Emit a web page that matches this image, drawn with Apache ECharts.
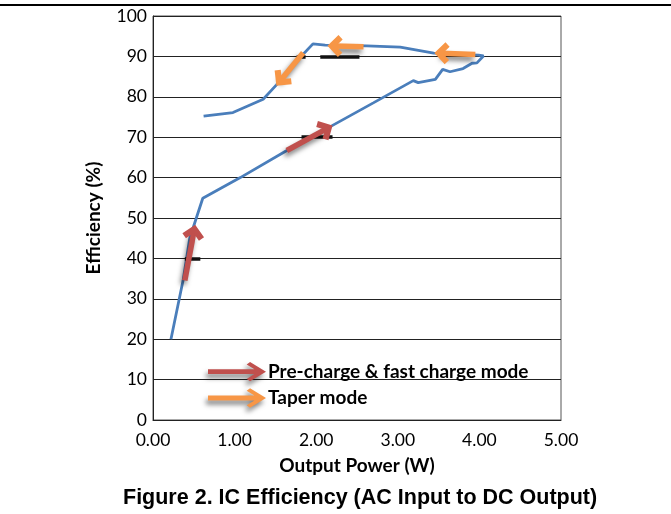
<!DOCTYPE html>
<html>
<head>
<meta charset="utf-8">
<script src="https://cdn.jsdelivr.net/npm/echarts@6/dist/echarts.min.js"></script>
<style>
html,body{margin:0;padding:0;background:#fff;}
#chart{width:671px;height:514px;}
</style>
</head>
<body>
<div id="chart"></div>
<script>
// Efficiency curve [output power W, efficiency %] in drawing order
var effPoints = [
  [0.22, 20], [0.37, 34.7], [0.45, 45], [0.61, 54.9], [1.07, 60], [1.64, 66.7],
  [2.19, 72.8], [2.7, 78.5], [3.19, 84], [3.25, 83.5], [3.46, 84.3], [3.55, 86.8],
  [3.64, 86.2], [3.8, 87], [3.91, 88.3], [3.97, 88.4], [4.05, 90.1], [3.99, 90.3],
  [3.44, 90.8], [3.03, 92.3], [2.62, 92.6], [2.11, 92.8], [1.96, 93.1], [1.82, 90.1],
  [1.51, 82.9], [1.35, 79.4], [0.98, 76.1], [0.62, 75.2]
];
// Annotation arrows: [x1, y1, x2, y2] (tail -> head)
var redArrows = [
  [0.39, 34.5, 0.50, 46.5],
  [1.64, 66.7, 2.12, 72.0]
];
var orangeArrows = [
  [3.95, 90.5, 3.54, 90.8],
  [2.58, 92.4, 2.23, 92.6],
  [1.84, 90.9, 1.57, 84.2]
];
// Thick dark specks on gridlines seen in the picture: [x1, x2, y]
var gridSpecks = [
  [2.05, 2.53, 90], [1.76, 1.87, 90], [1.82, 2.2, 70], [0.39, 0.58, 40]
];
var xTicks = ['0.00', '1.00', '2.00', '3.00', '4.00', '5.00'];
var legendNames = ['Pre-charge & fast charge mode', 'Taper mode'];

var chevron = 'path://M10,0 L20,10 L16,14 L10,8 L4,14 L0,10 Z';
var legendArrow = 'path://M0,7.5 L48,7.5 L40,2.5 L43.5,0 L60,10 L43.5,20 L40,17.5 L48,12.5 L0,12.5 Z';
var shadow = {shadowColor:'rgba(0,0,0,0.5)', shadowBlur:5, shadowOffsetX:-2, shadowOffsetY:4};

function arrowSeries(name, color, arr) {
  return {
    name: name, type: 'line', data: [], color: color,
    itemStyle: {color: color},
    markLine: {
      silent: true, animation: false,
      symbol: ['none', chevron], symbolSize: [22, 15],
      label: {show: false},
      emphasis: {disabled: true},
      lineStyle: Object.assign({color: color, width: 5.5, type: 'solid', opacity: 1}, shadow),
      itemStyle: Object.assign({color: color}, shadow),
      data: arr.map(function (a) { return [{coord: [a[0], a[1]]}, {coord: [a[2], a[3]]}]; })
    }
  };
}

var chart = echarts.init(document.getElementById('chart'), null, {renderer: 'canvas'});
chart.setOption({
  animation: false,
  backgroundColor: '#fff',
  title: {
    text: 'Figure 2. IC Efficiency (AC Input to DC Output)',
    left: 118, top: 482,
    textStyle: {fontFamily: 'Liberation Sans, Arial', fontWeight: 'bold', fontSize: 21.5, color: '#000'}
  },
  graphic: [{
    type: 'line', shape: {x1: 0, y1: 5, x2: 671, y2: 5},
    style: {stroke: '#000', lineWidth: 2}
  }],
  legend: {
    data: legendNames.map(function (n) { return {name: n, icon: legendArrow}; }),
    orient: 'vertical', left: 203, top: 357, itemWidth: 58, itemHeight: 20, itemGap: 7,
    itemStyle: shadow,
    textStyle: {fontFamily: 'Lato', fontWeight: 'bold', fontSize: 19, color: '#000', padding: [0, 0, 0, -3]},
    selectedMode: false
  },
  grid: {left: 153, right: 110, top: 16, bottom: 94, show: true, borderColor: '#555', borderWidth: 1},
  xAxis: {
    type: 'value', min: 0, max: 5, interval: 1,
    name: 'Output Power (W)', nameLocation: 'middle', nameGap: 36,
    nameTextStyle: {fontFamily: 'Lato', fontWeight: 'bold', fontSize: 19, color: '#000'},
    axisLine: {show: true, lineStyle: {color: '#222', width: 1}},
    axisTick: {show: false},
    splitLine: {show: false},
    axisLabel: {fontFamily: 'Lato', fontSize: 17.5, color: '#000', margin: 11,
      formatter: function (v) { return xTicks[Math.round(v)]; }}
  },
  yAxis: {
    type: 'value', min: 0, max: 100, interval: 10,
    name: 'Efficiency (%)', nameLocation: 'middle', nameGap: 50,
    nameTextStyle: {fontFamily: 'Lato', fontWeight: 'bold', fontSize: 19, color: '#000'},
    axisLine: {show: true, lineStyle: {color: '#222', width: 1}},
    axisTick: {show: false},
    splitLine: {show: true, lineStyle: {color: '#222', width: 1.2}},
    axisLabel: {fontFamily: 'Lato', fontSize: 17.5, color: '#000', margin: 6}
  },
  series: [
    {
      name: 'Efficiency', type: 'line', data: effPoints, showSymbol: false, smooth: false,
      lineStyle: {color: '#4A7EBB', width: 2.8}, itemStyle: {color: '#4A7EBB'}, z: 3
    },
    {
      name: 'specks', type: 'line', data: [], z: 2,
      markLine: {
        silent: true, animation: false, symbol: ['none', 'none'], label: {show: false},
        emphasis: {disabled: true},
        lineStyle: {color: '#111', width: 3.5, type: 'solid', opacity: 1},
        data: gridSpecks.map(function (s) { return [{coord: [s[0], s[2]]}, {coord: [s[1], s[2]]}]; })
      }
    },
    arrowSeries(legendNames[0], '#C0504D', redArrows),
    arrowSeries(legendNames[1], '#F79646', orangeArrows)
  ]
});
</script>
</body>
</html>
